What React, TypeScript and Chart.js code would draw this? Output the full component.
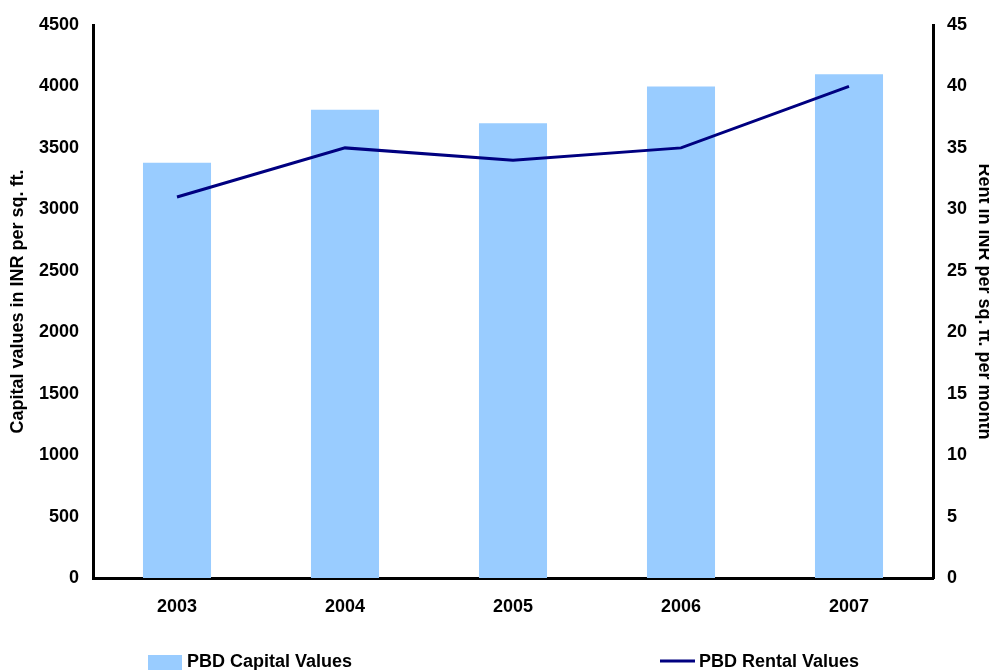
import { useEffect, useRef } from 'react';
import { Chart, registerables } from 'chart.js';

Chart.register(...registerables);

// Years on the category axis
const years = ['2003', '2004', '2005', '2006', '2007'];
// Capital values (INR per sq. ft.), left axis
const capitalValues = [3380, 3810, 3700, 4000, 4100];
// Rental values (INR per sq. ft. per month), right axis
const rentalValues = [31, 35, 34, 35, 40];

const capitalLabel = 'PBD Capital Values';
const rentalLabel = 'PBD Rental Values';
const leftTitle = 'Capital values in INR per sq. ft.';
const rightTitle = 'Rent in INR per sq. ft. per month';

const capitalMax = 4500;
const capitalStep = 500;
const rentalMax = 45;
const rentalStep = 5;

const FONT_FAMILY = '"Liberation Sans", Arial, Helvetica, sans-serif';
const BAR_COLOR = '#99CCFF';
const LINE_COLOR = '#000080';

// Axis titles and the bottom legend, drawn on the canvas after the chart
const decorations = {
  id: 'decorations',
  afterDraw(chart: any) {
    const { ctx, chartArea, width } = chart;
    const midY = (chartArea.top + chartArea.bottom) / 2;
    ctx.save();
    ctx.fillStyle = '#000';
    ctx.font = `bold 18px ${FONT_FAMILY}`;
    ctx.textAlign = 'center';
    ctx.textBaseline = 'middle';

    // left axis title (reads bottom to top)
    ctx.save();
    ctx.translate(18.5, midY);
    ctx.rotate(-Math.PI / 2);
    ctx.fillText(leftTitle, 0, 0);
    ctx.restore();

    // right axis title (reads top to bottom)
    ctx.save();
    ctx.translate(width - 5.5, midY);
    ctx.rotate(Math.PI / 2);
    ctx.fillText(rightTitle, 0, 0);
    ctx.restore();

    // legend
    const barDs = chart.data.datasets.find((d: any) => d.type === 'bar');
    const lineDs = chart.data.datasets.find((d: any) => d.type === 'line');
    ctx.textAlign = 'left';
    ctx.textBaseline = 'alphabetic';
    const legendBase = 667;

    ctx.fillStyle = barDs.backgroundColor;
    ctx.fillRect(148, 655, 34, 16);
    ctx.fillStyle = '#000';
    ctx.fillText(barDs.label, 187, legendBase);

    ctx.strokeStyle = lineDs.borderColor;
    ctx.lineWidth = 3;
    ctx.beginPath();
    ctx.moveTo(660, 661);
    ctx.lineTo(695, 661);
    ctx.stroke();
    ctx.fillStyle = '#000';
    ctx.fillText(lineDs.label, 699, legendBase);

    ctx.restore();
  },
};

export default function App() {
  const canvasRef = useRef<HTMLCanvasElement | null>(null);

  useEffect(() => {
    const canvas = canvasRef.current;
    if (!canvas) return;
    const tickFont = { family: FONT_FAMILY, size: 18, weight: 'bold' as const };
    const border = { display: true, color: '#000', width: 3 };
    const plain = (v: any) => String(v);

    const chart = new Chart(canvas, {
      type: 'bar',
      data: {
        labels: years,
        datasets: [
          {
            type: 'line',
            label: rentalLabel,
            data: rentalValues,
            yAxisID: 'y1',
            borderColor: LINE_COLOR,
            backgroundColor: LINE_COLOR,
            borderWidth: 3,
            pointRadius: 0,
            tension: 0,
            fill: false,
            order: 0,
          } as any,
          {
            type: 'bar',
            label: capitalLabel,
            data: capitalValues,
            yAxisID: 'y',
            backgroundColor: BAR_COLOR,
            borderWidth: 0,
            categoryPercentage: 1,
            barPercentage: 0.405,
            order: 1,
          } as any,
        ],
      },
      options: {
        responsive: false,
        animation: false,
        devicePixelRatio: 1,
        layout: { padding: { top: 25, left: 0, right: 0, bottom: 0 } },
        plugins: {
          legend: { display: false },
          tooltip: { enabled: false },
        },
        scales: {
          x: {
            position: 'bottom',
            grid: { display: false, drawTicks: false },
            border,
            ticks: { font: tickFont, color: '#000', padding: 18, maxRotation: 0 },
            afterFit(scale: any) {
              scale.height = 92;
            },
          },
          y: {
            position: 'left',
            min: 0,
            max: capitalMax,
            grid: { display: false, drawTicks: false },
            border,
            ticks: { stepSize: capitalStep, font: tickFont, color: '#000', padding: 14, callback: plain },
            afterFit(scale: any) {
              scale.width = 93;
            },
          },
          y1: {
            position: 'right',
            min: 0,
            max: rentalMax,
            grid: { display: false, drawTicks: false },
            border,
            ticks: { stepSize: rentalStep, font: tickFont, color: '#000', padding: 14, callback: plain },
            afterFit(scale: any) {
              scale.width = 56;
            },
          },
        },
      } as any,
      plugins: [decorations],
    });

    return () => chart.destroy();
  }, []);

  return (
    <div style={{ position: 'absolute', left: 0, top: 0, width: 989, height: 670, background: '#fff' }}>
      <canvas ref={canvasRef} width={989} height={670} style={{ display: 'block' }} />
    </div>
  );
}
